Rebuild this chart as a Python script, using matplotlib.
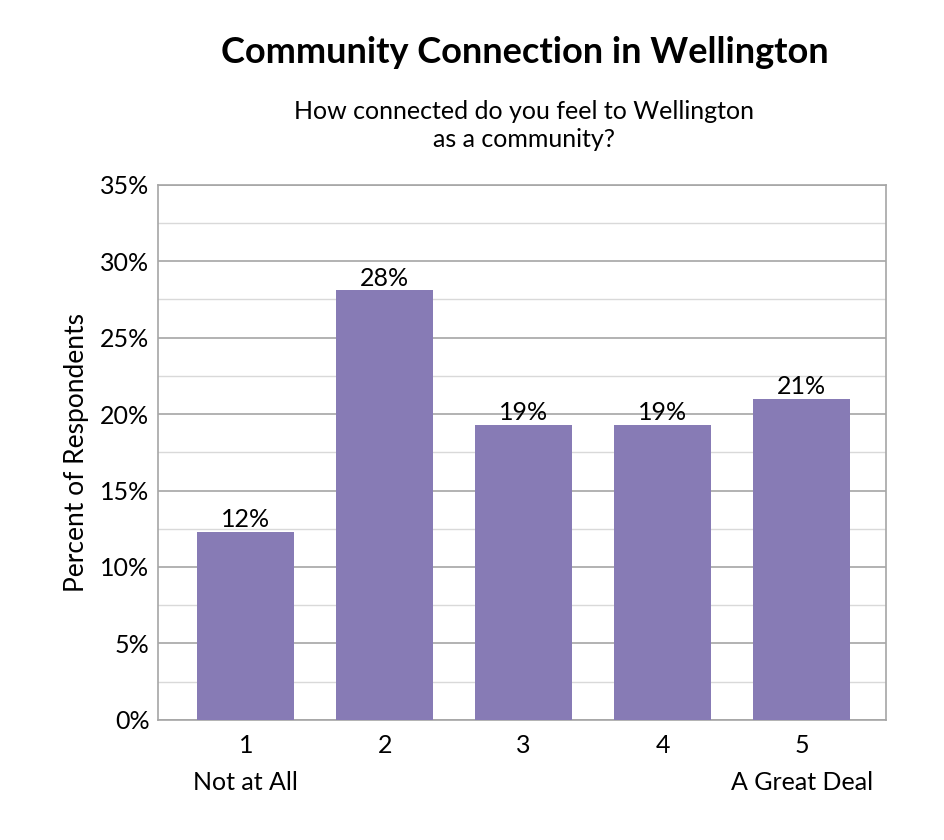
import matplotlib.pyplot as plt
import numpy as np

plt.rcParams["font.family"] = ["Lato", "DejaVu Sans"]

categories = ["1", "2", "3", "4", "5"]
end_labels = ["Not at All", "A Great Deal"]
values = [12.3, 28.1, 19.3, 19.3, 21.0]
labels = ["12%", "28%", "19%", "19%", "21%"]

fig = plt.figure(figsize=(9.45, 8.4), dpi=100)
ax = fig.add_axes([0.167, 0.143, 0.771, 0.637])
x = np.arange(len(values))
ax.bar(x, values, width=0.7, color="#877BB5", zorder=3)
for xi, v, lab in zip(x, values, labels):
    ax.text(xi, v + 0.05, lab, ha="center", va="bottom", fontsize=18, zorder=4)

ax.set_xlim(-0.633, 4.61)
ax.set_ylim(0, 35)
ax.set_yticks(np.arange(0, 36, 5))
ax.set_yticklabels([f"{t}%" for t in range(0, 36, 5)], fontsize=18)
ax.set_yticks(np.arange(2.5, 35, 5), minor=True)
ax.grid(axis="y", which="major", color="#A6A6A6", linewidth=1.2, zorder=0)
ax.grid(axis="y", which="minor", color="#D9D9D9", linewidth=1.0, zorder=0)
ax.tick_params(axis="y", which="both", length=0, pad=6)
ax.set_xticks(x)
ax.set_xticklabels(categories, fontsize=18)
ax.tick_params(axis="x", length=0, pad=10)
for s in ax.spines.values():
    s.set_color("#A6A6A6")
    s.set_linewidth(1.2)
ax.set_ylabel("Percent of Respondents", fontsize=19, labelpad=8)

ax.text(0, -0.095, end_labels[0], transform=ax.get_xaxis_transform(), ha="center", va="top", fontsize=18)
ax.text(4, -0.095, end_labels[1], transform=ax.get_xaxis_transform(), ha="center", va="top", fontsize=18)

fig.text(0.555, 0.925, "Community Connection in Wellington", ha="center", fontsize=26, fontweight="bold")
fig.text(0.555, 0.825, "How connected do you feel to Wellington\nas a community?", ha="center", fontsize=18, linespacing=1.25)

fig.savefig("out.png", dpi=100)
